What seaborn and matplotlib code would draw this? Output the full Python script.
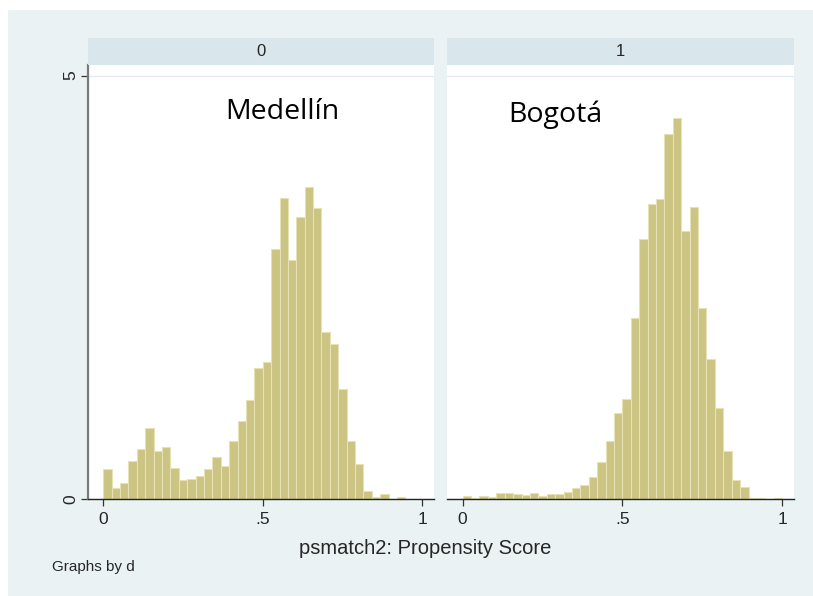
import matplotlib
matplotlib.use('Agg')
import matplotlib.pyplot as plt
from matplotlib.patches import Rectangle
import seaborn as sns
import numpy as np
import pandas as pd

# 38 bins of width 1/38 on [0, 1]
n_bins = 38
bin_edges = np.linspace(0, 1, n_bins + 1)
bin_centers = (bin_edges[:-1] + bin_edges[1:]) / 2

# bar heights (density)
density_d0 = [0.355, 0.126, 0.193, 0.453, 0.595, 0.835, 0.571, 0.619, 0.370, 0.225,
              0.240, 0.272, 0.355, 0.496, 0.394, 0.682, 0.922, 1.170, 1.548, 1.615,
              2.951, 3.554, 2.825, 3.329, 3.680, 3.436, 1.966, 1.832, 1.300, 0.682,
              0.410, 0.091, 0.028, 0.055, 0.0, 0.020, 0.0, 0.0]
density_d1 = [0.030, 0.010, 0.030, 0.020, 0.067, 0.075, 0.063, 0.051, 0.075, 0.030,
              0.063, 0.063, 0.087, 0.126, 0.162, 0.256, 0.433, 0.686, 1.017, 1.186,
              2.136, 3.069, 3.483, 3.542, 4.307, 4.500, 3.168, 3.444, 2.254, 1.655,
              1.072, 0.571, 0.221, 0.138, 0.008, 0.016, 0.0, 0.012]

group_labels = ['0', '1']
city_names = ['Medellín', 'Bogotá']
city_x = [0.56, 0.29]
city_y = [4.49, 4.45]
x_ticks = [0, 0.5, 1]
x_tick_labels = ['0', '.5', '1']
y_ticks = [0, 5]
y_tick_labels = ['0', '5']

df = pd.DataFrame({
    'd': np.repeat(group_labels, n_bins),
    'pscore': np.tile(bin_centers, 2),
    'density': density_d0 + density_d1,
})

sns.set_style('white')
plt.rcParams['font.family'] = ['Liberation Sans', 'DejaVu Sans']

W, H = 813, 596
bg_color = '#EAF2F3'
strip_color = '#D9E6EB'
bar_color = '#CBC482'
bar_edge = '#E6E2B6'

fig = plt.figure(figsize=(W / 100, H / 100), dpi=100)
fig.patch.set_facecolor('white')
fig.patches.append(Rectangle((8 / W, 0), 1 - 8 / W, 1 - 10 / H, transform=fig.transFigure,
                             figure=fig, facecolor=bg_color, edgecolor='none', zorder=-10))

panel_left = [88, 447.3]
panel_right = [434, 794]
plot_top, plot_bottom = 65, 499
strip_top = 38

for i, g in enumerate(group_labels):
    x0 = panel_left[i] / W
    w = (panel_right[i] - panel_left[i]) / W
    ax = fig.add_axes([x0, 1 - plot_bottom / H, w, (plot_bottom - plot_top) / H])
    ax.set_facecolor('white')
    sns.histplot(data=df[df['d'] == g], x='pscore', weights='density',
                 binwidth=1 / n_bins, binrange=(0, 1),
                 stat='count', color=bar_color, edgecolor=bar_edge, linewidth=0.8,
                 alpha=1, ax=ax, zorder=2)
    ax.set_xlim(-0.048, 1.037)
    ax.set_ylim(0, 5.124)
    ax.set_yticks(y_ticks)
    ax.yaxis.grid(True, color='#E2ECF0', linewidth=1.0, zorder=0)
    ax.set_axisbelow(True)
    ax.set_xticks(x_ticks)
    ax.set_xticklabels(x_tick_labels, fontsize=12.5)
    ax.tick_params(axis='x', direction='out', length=5, width=0.9, color='#333333',
                   pad=4, bottom=True)
    ax.set_xlabel('')
    ax.set_ylabel('')
    for s in ['top', 'right']:
        ax.spines[s].set_visible(False)
    ax.spines['bottom'].set_color('#222222')
    ax.spines['bottom'].set_linewidth(1.0)
    if i == 0:
        ax.spines['left'].set_color('#7A7A7A')
        ax.spines['left'].set_linewidth(1.6)
        ax.set_yticklabels(y_tick_labels, rotation=90, va='center', fontsize=12.5)
        ax.tick_params(axis='y', direction='out', length=5, width=0.9, color='#333333',
                       pad=2, left=True)
    else:
        ax.spines['left'].set_visible(False)
        ax.tick_params(axis='y', left=False, labelleft=False)
    ax.text(city_x[i], city_y[i], city_names[i], ha='center', va='baseline',
            fontsize=20.5, family=['Open Sans', 'DejaVu Sans'], color='black')

    # strip header
    sax = fig.add_axes([x0, 1 - plot_top / H, w, (plot_top - strip_top) / H])
    sax.set_facecolor(strip_color)
    sax.set_xticks([])
    sax.set_yticks([])
    for s in sax.spines.values():
        s.set_visible(False)
    sax.text(0.5, 0.5, g, ha='center', va='center', fontsize=12, transform=sax.transAxes)

fig.text(425 / W, 1 - 548 / H, 'psmatch2: Propensity Score', ha='center', va='center',
         fontsize=14.5)
fig.text(52 / W, 1 - 567 / H, 'Graphs by d', ha='left', va='center', fontsize=11)

fig.savefig('out.png', dpi=100, facecolor=fig.get_facecolor())
